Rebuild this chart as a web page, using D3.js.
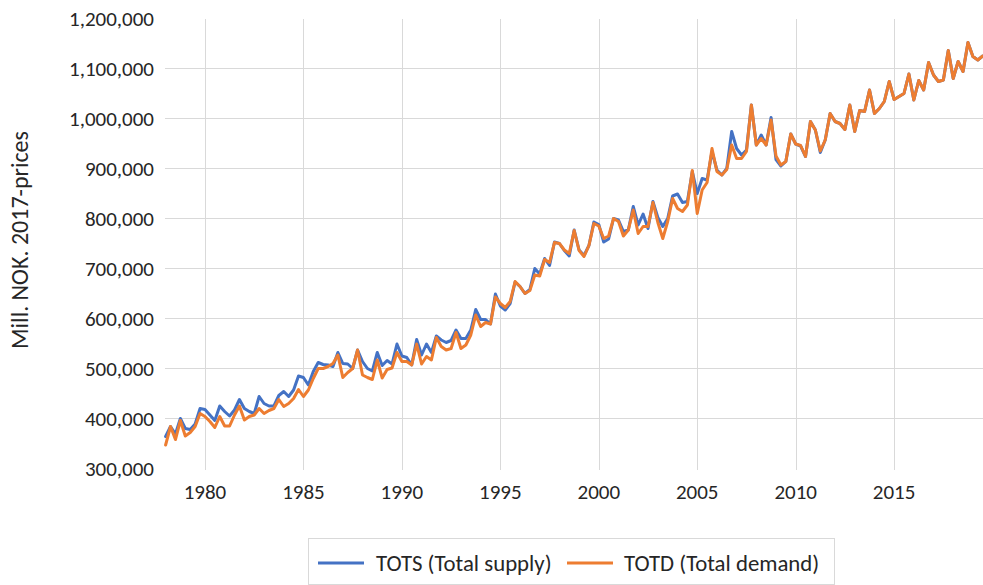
<!DOCTYPE html>
<html>
<head>
<meta charset="utf-8">
<script src="https://cdn.jsdelivr.net/npm/d3@7"></script>
<style>
    html, body { margin: 0; padding: 0; background: #fff; }
    svg { display: block; font-family: Calibri, Carlito, Lato, sans-serif; }
</style>
</head>
<body>
<svg id="chart" width="983" height="585"></svg>
<script>
// Quarterly data, 1978Q1 onwards (thousand mill. NOK)
var startYear = 1978;
var tots = [363, 383, 368, 399, 379, 377, 388, 419, 417, 406, 395, 424, 413, 404, 416, 437,
    419, 413, 409, 443, 429, 424, 424, 445, 453, 443, 456, 484, 481, 466, 493, 511,
    507, 506, 503, 531, 509, 508, 499, 536, 513, 499, 494, 531, 505, 515, 508, 548,
    524, 521, 506, 557, 526, 548, 531, 564, 556, 551, 555, 576, 559, 559, 576, 617,
    597, 597, 588, 648, 624, 616, 629, 672, 663, 649, 657, 699, 688, 719, 705, 752,
    749, 735, 724, 776, 736, 725, 745, 792, 787, 752, 758, 799, 796, 773, 776, 823,
    786, 808, 779, 833, 801, 783, 799, 844, 848, 831, 833, 893, 849, 879, 876, 933,
    896, 886, 899, 973, 939, 926, 936, 1026, 946, 966, 946, 1001, 917, 904, 913, 968,
    948, 944, 923, 993, 976, 931, 956, 1009, 993, 989, 977, 1026, 973, 1015, 1013, 1056,
    1009, 1019, 1033, 1073, 1037, 1043, 1049, 1088, 1036, 1075, 1056, 1111, 1086, 1073, 1076, 1135,
    1079, 1113, 1093, 1151, 1123, 1116, 1124];
var totd = [346, 383, 357, 395, 364, 371, 383, 409, 403, 393, 381, 403, 384, 384, 406, 424,
    396, 403, 406, 419, 409, 415, 419, 437, 423, 429, 439, 457, 443, 456, 479, 499,
    499, 503, 509, 526, 481, 491, 499, 536, 486, 481, 477, 516, 480, 497, 500, 531,
    513, 513, 506, 548, 508, 523, 516, 561, 543, 536, 539, 571, 539, 546, 566, 606,
    583, 591, 588, 642, 629, 621, 633, 673, 663, 649, 655, 686, 684, 717, 711, 751,
    749, 736, 729, 775, 735, 723, 745, 789, 784, 759, 764, 799, 793, 764, 776, 816,
    769, 783, 783, 831, 791, 759, 793, 839, 819, 813, 826, 895, 809, 856, 871, 939,
    893, 886, 897, 946, 919, 919, 933, 1026, 946, 959, 946, 996, 924, 906, 913, 968,
    948, 945, 923, 993, 976, 934, 956, 1009, 993, 989, 977, 1026, 973, 1015, 1013, 1056,
    1009, 1019, 1033, 1073, 1037, 1043, 1049, 1088, 1036, 1075, 1056, 1111, 1086, 1073, 1076, 1135,
    1079, 1113, 1093, 1151, 1123, 1116, 1124];
var yTicks = [300000, 400000, 500000, 600000, 700000, 800000, 900000, 1000000, 1100000, 1200000];
var xTicks = [1980, 1985, 1990, 1995, 2000, 2005, 2010, 2015];
var seriesNames = ["TOTS (Total supply)", "TOTD (Total demand)"];
var seriesColors = ["#4472C4", "#ED7D31"];
var axisTitle = "Mill. NOK. 2017-prices";

var svg = d3.select("#chart");
var textColor = "#262626", gridColor = "#d9d9d9";

// Scales
var x = d3.scaleLinear().domain([1978, 2020]).range([165.6, 165.6 + 42 * 19.69]);
var y = d3.scaleLinear().domain([300000, 1200000]).range([468, 18]);

// Gridlines (no line at min / max value, like the original)
svg.append("g").selectAll("line").data(yTicks.slice(1, -1)).join("line")
    .attr("x1", 165).attr("x2", 983)
    .attr("y1", function (d) { return Math.round(y(d)) + 0.5; })
    .attr("y2", function (d) { return Math.round(y(d)) + 0.5; })
    .attr("stroke", gridColor).attr("stroke-width", 1);
svg.append("g").selectAll("line").data(xTicks).join("line")
    .attr("x1", function (d) { return Math.round(x(d)) + 0.5; })
    .attr("x2", function (d) { return Math.round(x(d)) + 0.5; })
    .attr("y1", 19).attr("y2", 470)
    .attr("stroke", gridColor).attr("stroke-width", 1);

// Axis labels
svg.append("g").selectAll("text").data(yTicks).join("text")
    .attr("x", 154).attr("y", function (d) { return y(d); })
    .attr("dy", "0.36em")
    .attr("text-anchor", "end")
    .attr("font-size", 21).attr("fill", textColor)
    .text(function (d) { return d3.format(",")(d); });
svg.append("g").selectAll("text").data(xTicks).join("text")
    .attr("x", function (d) { return x(d); }).attr("y", 499)
    .attr("text-anchor", "middle")
    .attr("font-size", 21).attr("fill", textColor)
    .text(function (d) { return d; });

svg.append("text")
    .attr("transform", "translate(28,240) rotate(-90)")
    .attr("text-anchor", "middle")
    .attr("font-size", 24).attr("fill", textColor)
    .text(axisTitle);

// Lines
var line = d3.line()
    .x(function (d, i) { return x(startYear + i / 4); })
    .y(function (d) { return y(d * 1000); });
[tots, totd].forEach(function (s, k) {
    svg.append("path").datum(s)
        .attr("d", line)
        .attr("fill", "none")
        .attr("stroke", seriesColors[k])
        .attr("stroke-width", 3)
        .attr("stroke-linejoin", "round")
        .attr("stroke-linecap", "round");
});

// Legend
svg.append("rect")
    .attr("x", 308.5).attr("y", 538.5).attr("width", 526).attr("height", 46)
    .attr("fill", "#fff").attr("stroke", gridColor);
var legendX = [[318, 364, 376], [567, 613, 624]];
seriesNames.forEach(function (name, k) {
    var p = legendX[k];
    svg.append("line")
        .attr("x1", p[0]).attr("x2", p[1]).attr("y1", 563).attr("y2", 563)
        .attr("stroke", seriesColors[k]).attr("stroke-width", 3);
    svg.append("text")
        .attr("x", p[2]).attr("y", 563).attr("dy", "0.36em")
        .attr("font-size", 22.8).attr("fill", textColor)
        .text(name);
});
</script>
</body>
</html>
